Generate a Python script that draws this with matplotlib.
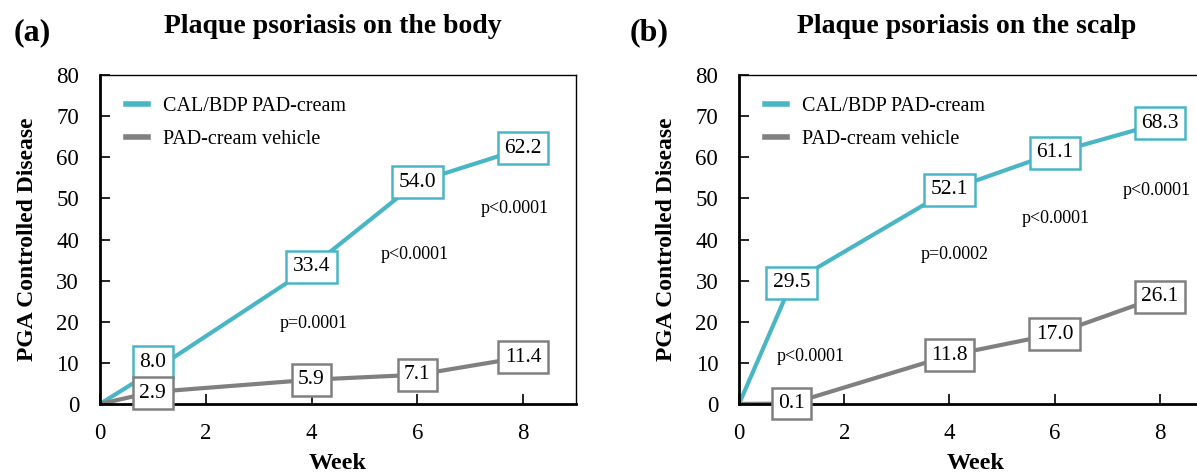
import numpy as np
import matplotlib.pyplot as plt

plt.rcParams['font.family'] = ['Liberation Serif', 'DejaVu Serif']

# data
weeks = [0, 1, 4, 6, 8]
body_cal = [0, 8.0, 33.4, 54.0, 62.2]
body_veh = [0, 2.9, 5.9, 7.1, 11.4]
scalp_cal = [0, 29.5, 52.1, 61.1, 68.3]
scalp_veh = [0, 0.1, 11.8, 17.0, 26.1]

body_p = ['p=0.0001', 'p<0.0001', 'p<0.0001']
body_p_pos = [(4.05, 19.6), (5.95, 36.4), (7.85, 47.6)]
scalp_p = ['p<0.0001', 'p=0.0002', 'p<0.0001', 'p<0.0001']
scalp_p_pos = [(1.37, 11.5), (4.1, 36.4), (6.02, 45.2), (7.95, 52.0)]

teal = '#4ab6c5'
grey = '#808080'

fig = plt.figure(figsize=(11.97, 4.73), dpi=100)
ax1 = fig.add_axes([0.0835, 0.146, 0.3977, 0.695])
ax2 = fig.add_axes([0.6174, 0.146, 0.3955, 0.695])


def draw(ax, cal, veh, ptxt, ppos, title, tag, tagx, titlex, offs):
    ax.plot(weeks, cal, color=teal, lw=3, label='CAL/BDP PAD-cream', zorder=2)
    ax.plot(weeks, veh, color=grey, lw=3, label='PAD-cream vehicle', zorder=2)
    for i in range(1, len(weeks)):
        for vals, col, k in [(cal, teal, 0), (veh, grey, 1)]:
            y = vals[i] + (offs[k] if i == 1 else 0)
            ax.text(weeks[i], y, '%.1f' % vals[i], ha='center', va='center',
                    fontsize=15.5, zorder=5,
                    bbox=dict(boxstyle='square,pad=0.3', fc='white', ec=col, lw=1.8))
    for t, (x, y) in zip(ptxt, ppos):
        ax.text(x, y, t, ha='center', va='center', fontsize=13)
    ax.set_xlim(0, 9)
    ax.set_ylim(0, 80)
    ax.set_xticks([0, 2, 4, 6, 8])
    ax.set_yticks(range(0, 81, 10))
    ax.tick_params(direction='in', length=7, width=1.2, labelsize=16.5, pad=15)
    ax.tick_params(axis='x', pad=14)
    ax.spines['left'].set_linewidth(2)
    ax.spines['bottom'].set_linewidth(2)
    ax.spines['top'].set_linewidth(1)
    ax.spines['right'].set_linewidth(1)
    ax.set_ylabel('PGA Controlled Disease', fontsize=17, fontweight='bold', labelpad=13)
    ax.set_xlabel('Week', fontsize=17.5, fontweight='bold', labelpad=6)
    leg = ax.legend(loc='upper left', frameon=False, fontsize=14.5, handlelength=1.1,
                    handletextpad=0.75, labelspacing=0.65, bbox_to_anchor=(0.017, 0.988))
    for h in leg.get_lines():
        h.set_linewidth(4)
    fig.text(titlex, 0.945, title, ha='center', va='center', fontsize=20, fontweight='bold')
    fig.text(tagx, 0.93, tag, ha='left', va='center', fontsize=23, fontweight='bold')


draw(ax1, body_cal, body_veh, body_p, body_p_pos,
     'Plaque psoriasis on the body', '(a)', 0.011, 0.278, (2.2, -0.3))
draw(ax2, scalp_cal, scalp_veh, scalp_p, scalp_p_pos,
     'Plaque psoriasis on the scalp', '(b)', 0.526, 0.808, (0, 0))

fig.savefig('out.png', dpi=100)
